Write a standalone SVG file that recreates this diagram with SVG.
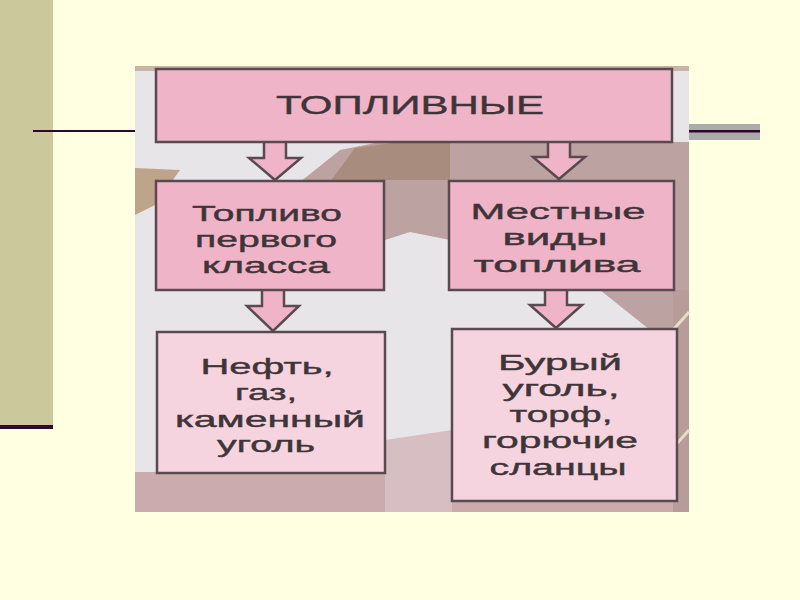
<svg xmlns="http://www.w3.org/2000/svg" width="800" height="600" viewBox="0 0 800 600">
<style>
.box1{fill:#F0B4C9;stroke:#5A4A4F;stroke-width:2.5}
.box2{fill:#F5D4DF;stroke:#5A4A4F;stroke-width:2.5}
.arr{fill:#F0B4C9;stroke:#5A4A4F;stroke-width:2.5;stroke-linejoin:miter}
.t{font-family:"Liberation Sans",Arial,sans-serif;font-size:22px;fill:#3F3538;text-anchor:middle;stroke:#3F3538;stroke-width:0.4}
</style>
<rect width="800" height="600" fill="#FFFFE1"/>
<rect x="0" y="0" width="53" height="425" fill="#CBC99B"/>
<rect x="0" y="425" width="53" height="4" fill="#2E0A2E"/>
<rect x="33" y="130" width="102" height="2" fill="#30062E"/>
<rect x="689" y="124" width="71" height="16" fill="#ABABAB"/>
<rect x="689" y="130" width="71" height="2.5" fill="#30062E"/>

<g id="photo">
<rect x="135" y="66" width="554" height="446" fill="#E8E5E8"/>
<polygon points="300,182 340,150 380,142 689,142 689,330 650,330 600,290 450,290 450,240 410,232 385,240 385,180" fill="#BCA2A0"/>
<polygon points="330,182 355,148 400,142 450,142 450,180 385,180 385,200" fill="#A88C7E"/>
<polygon points="135,168 180,170 155,205 135,215" fill="#BFA48C"/>
<polygon points="135,472 689,472 689,512 135,512" fill="#CCABAF"/>
<polygon points="385,440 452,430 452,512 385,512" fill="#D6BEC2"/>
<polygon points="673,290 689,290 689,512 673,512" fill="#B89C9A"/>
<line x1="673" y1="330" x2="689" y2="312" stroke="#E8DCC8" stroke-width="3"/>
<line x1="673" y1="448" x2="689" y2="430" stroke="#E8DCC8" stroke-width="3"/>
<rect x="135" y="66" width="554" height="5" fill="#C9B4A8"/>
</g>

<g id="connectors">
<path class="arr" d="M264,142 V158 H249 L275,180 L301,158 H286 V142"/>
<path class="arr" d="M548,142 V157 H533 L559,179 L585,157 H570 V142"/>
<path class="arr" d="M262,290 V306 H247 L273,331 L299,306 H284 V290"/>
<path class="arr" d="M545,290 V305 H530 L556,328 L582,305 H567 V290"/>
</g>

<g id="node-top">
<rect class="box1" x="156" y="69" width="516" height="73"/>
<text class="t" x="410" y="114" textLength="268" lengthAdjust="spacingAndGlyphs" style="font-size:26px">ТОПЛИВНЫЕ</text>
</g>

<g id="node-first-class">
<rect class="box1" x="156" y="181" width="228" height="109"/>
<text class="t" x="267" y="221" textLength="150" lengthAdjust="spacingAndGlyphs">Топливо</text>
<text class="t" x="266" y="247" textLength="142" lengthAdjust="spacingAndGlyphs">первого</text>
<text class="t" x="266" y="273" textLength="128" lengthAdjust="spacingAndGlyphs">класса</text>
</g>

<g id="node-local">
<rect class="box1" x="449" y="181" width="225" height="109"/>
<text class="t" x="558" y="219" textLength="175" lengthAdjust="spacingAndGlyphs">Местные</text>
<text class="t" x="555" y="245" textLength="105" lengthAdjust="spacingAndGlyphs">виды</text>
<text class="t" x="557" y="272" textLength="167" lengthAdjust="spacingAndGlyphs">топлива</text>
</g>

<g id="node-oil">
<rect class="box2" x="157" y="332" width="228" height="141"/>
<text class="t" x="267" y="374" textLength="133" lengthAdjust="spacingAndGlyphs">Нефть,</text>
<text class="t" x="266" y="400" textLength="62" lengthAdjust="spacingAndGlyphs">газ,</text>
<text class="t" x="270" y="427" textLength="190" lengthAdjust="spacingAndGlyphs">каменный</text>
<text class="t" x="266" y="452" textLength="98" lengthAdjust="spacingAndGlyphs">уголь</text>
</g>

<g id="node-lignite">
<rect class="box2" x="452" y="329" width="225" height="172"/>
<text class="t" x="560" y="370" textLength="124" lengthAdjust="spacingAndGlyphs">Бурый</text>
<text class="t" x="561" y="396" textLength="117" lengthAdjust="spacingAndGlyphs">уголь,</text>
<text class="t" x="561" y="422" textLength="103" lengthAdjust="spacingAndGlyphs">торф,</text>
<text class="t" x="560" y="448" textLength="156" lengthAdjust="spacingAndGlyphs">горючие</text>
<text class="t" x="558" y="475" textLength="137" lengthAdjust="spacingAndGlyphs">сланцы</text>
</g>
</svg>
